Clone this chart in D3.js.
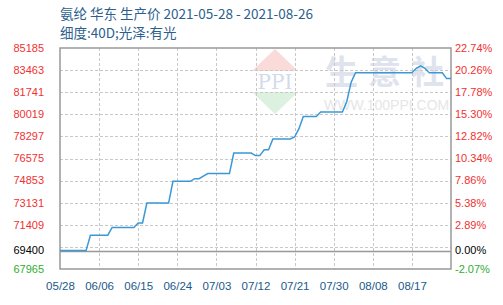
<!DOCTYPE html>
<html>
<head>
<meta charset="utf-8">
<script src="https://cdn.jsdelivr.net/npm/d3@7"></script>
<style>
  body { margin: 0; background: #fff; }
  svg { display: block; }
</style>
</head>
<body>
<svg id="chart" width="503" height="305"></svg>
<script>
//  data
const titleText = "氨纶 华东 生产价 2021-05-28 - 2021-08-26";
const subtitleText = "细度:40D;光泽:有光";
const startDate = "2021-05-28";
const endDate = "2021-08-26";
const baseValue = 69400;

// one price per day from 05/28 to 08/26
const prices = [
  69400, 69400, 69400, 69400, 69400, 69400, 69400,            // 05/28 - 06/03
  70600, 70600, 70600, 70600, 70600,                          // 06/04 - 06/08
  71200, 71200, 71200, 71200, 71200, 71200,                   // 06/09 - 06/14
  71550, 71550,                                               // 06/15 - 06/16
  73100, 73100, 73100, 73100, 73100, 73100,                   // 06/17 - 06/22
  74800, 74800, 74800, 74800, 74800,                          // 06/23 - 06/27
  75000, 75000, 75200,                                        // 06/28 - 06/30
  75400, 75400, 75400, 75400, 75400, 75400,                   // 07/01 - 07/06
  77000, 77000, 77000, 77000, 77000,                          // 07/07 - 07/11
  76800, 76800, 77250, 77250,                                 // 07/12 - 07/15
  78100, 78100, 78100, 78100, 78100,                          // 07/16 - 07/20
  78250, 78900,                                               // 07/21 - 07/22
  79850, 79850, 79850, 79850,                                 // 07/23 - 07/26
  80200, 80200, 80200, 80200, 80200, 80200,                   // 07/27 - 08/01
  81000, 82500,                                               // 08/02 - 08/03
  83250, 83250, 83250, 83250, 83250, 83250, 83250,            // 08/04 - 08/10
  83250, 83250, 83250, 83250, 83250, 83250, 83250,            // 08/11 - 08/17
  83600, 83800, 83600,                                        // 08/18 - 08/20
  83250, 83250, 83250, 83250,                                 // 08/21 - 08/24
  82800, 82800                                                // 08/25 - 08/26
];

const xTickLabels = ["05/28", "06/06", "06/15", "06/24", "07/03", "07/12", "07/21", "07/30", "08/08", "08/17"];
const gridValues = [85185, 83463, 81741, 80019, 78297, 76575, 74853, 73131, 71409, 69687, 67965];
const leftTicks = [85185, 83463, 81741, 80019, 78297, 76575, 74853, 73131, 71409, 69400, 67965];
const watermarkChars = ["生", "意", "社"];

function draw_chart() {
  const margin = ({top: 48, right: 52, bottom: 36, left: 60});
  const w = 503, h = 305;
  const svg = d3.select("#chart");

  const parseDay = d3.timeParse("%Y-%m-%d");
  const t0 = parseDay(startDate);
  const t1 = parseDay(endDate);
  const data = prices.map((p, i) => ({date: d3.timeDay.offset(t0, i), value: p}));

  const x = d3.scaleTime().domain([t0, t1]).range([margin.left, w - margin.right]);
  const y = d3.scaleLinear().domain([d3.min(gridValues), d3.max(gridValues)]).range([h - margin.bottom, margin.top]);

  //  title
  svg.append("text")
    .attr("x", 60).attr("y", 19)
    .text(titleText)
    .style("font-family", "'Noto Sans CJK SC', sans-serif")
    .style("font-size", "13.5px")
    .style("fill", "#2c5f8e");
  svg.append("text")
    .attr("x", 60).attr("y", 38)
    .text(subtitleText)
    .style("font-family", "'Noto Sans CJK SC', sans-serif")
    .style("font-size", "13.5px")
    .style("fill", "#2c5f8e");

  //  watermark
  const wm = svg.append("g").attr("class", "watermark");
  wm.append("path")
    .attr("d", "M275,49 L298,71 L252,71 Z")
    .attr("fill", "#fbdada");
  wm.append("path")
    .attr("d", "M252,92 L298,92 L275,114 Z")
    .attr("fill", "#dcf1e0");
  wm.append("text")
    .attr("x", 275).attr("y", 89)
    .attr("text-anchor", "middle")
    .text("PPI")
    .style("font-family", "'DejaVu Serif', serif")
    .style("font-size", "20px")
    .style("fill", "#d3dbeb");
  wm.selectAll("text.wmchar")
    .data(watermarkChars)
    .join("text")
    .attr("class", "wmchar")
    .attr("x", (d, i) => 325 + i * 43).attr("y", 84)
    .text(d => d)
    .style("font-family", "'Noto Sans CJK SC', sans-serif")
    .style("font-size", "33px")
    .style("font-weight", "bold")
    .style("fill", "#dfe3ee");
  wm.append("text")
    .attr("x", 324).attr("y", 110)
    .text("WWW.100PPI.COM")
    .style("font-family", "'Liberation Sans', sans-serif")
    .style("font-size", "14px")
    .style("fill", "#e6e6e6");

  //  grid
  svg.append("g")
    .selectAll("line")
    .data(gridValues.slice(1, -1))
    .join("line")
    .attr("x1", margin.left).attr("x2", w - margin.right)
    .attr("y1", d => Math.round(y(d)) + 0.5).attr("y2", d => Math.round(y(d)) + 0.5)
    .style("stroke", "#c8c8c8")
    .style("stroke-dasharray", "3,2");

  const tickDates = xTickLabels.map(s => parseDay("2021-" + s.replace("/", "-")));
  svg.append("g")
    .selectAll("line")
    .data(tickDates.slice(1))
    .join("line")
    .attr("x1", d => Math.round(x(d)) + 0.5).attr("x2", d => Math.round(x(d)) + 0.5)
    .attr("y1", margin.top).attr("y2", h - margin.bottom)
    .style("stroke", "#c8c8c8")
    .style("stroke-dasharray", "3,2");

  //  base line
  svg.append("line")
    .attr("x1", margin.left).attr("x2", w - margin.right)
    .attr("y1", Math.round(y(baseValue)) + 0.5).attr("y2", Math.round(y(baseValue)) + 0.5)
    .style("stroke", "#999")
    .style("stroke-width", 1.5);

  //  frame
  svg.append("rect")
    .attr("x", margin.left).attr("y", margin.top)
    .attr("width", w - margin.right - margin.left)
    .attr("height", h - margin.bottom - margin.top)
    .attr("fill", "none")
    .style("stroke", "#999")
    .style("stroke-width", 1.5);

  //  price line
  svg.append("path")
    .datum(data)
    .attr("fill", "none")
    .attr("stroke", "#3b98d6")
    .attr("stroke-width", 1.5)
    .attr("d", d3.line().x(d => x(d.date)).y(d => y(d.value)));

  //  axes
  const tickColor = v => v === baseValue ? "#000" : (v < baseValue ? "#2fae2f" : "#f03232");

  const yAxisL = svg.append("g")
    .attr("transform", `translate(${margin.left},0)`)
    .call(d3.axisLeft(y).tickValues(leftTicks).tickSize(0).tickPadding(16).tickFormat(d => d));
  yAxisL.select(".domain").remove();
  yAxisL.selectAll("text")
    .attr("dy", "0.3em")
    .style("font-family", "'Liberation Sans', Arial, sans-serif")
    .style("font-size", "11px")
    .style("fill", d => tickColor(d));

  const pct = v => ((v - baseValue) / baseValue * 100).toFixed(2) + "%";
  const yAxisR = svg.append("g")
    .attr("transform", `translate(${w - margin.right},0)`)
    .call(d3.axisRight(y).tickValues(leftTicks).tickSize(0).tickPadding(4).tickFormat(pct));
  yAxisR.select(".domain").remove();
  yAxisR.selectAll("text")
    .attr("dy", "0.3em")
    .style("font-family", "'Liberation Sans', Arial, sans-serif")
    .style("font-size", "11px")
    .style("fill", d => tickColor(d));

  const xAxis = svg.append("g")
    .attr("transform", `translate(0,${h - margin.bottom})`)
    .call(d3.axisBottom(x).tickValues(tickDates).tickSize(0).tickPadding(13).tickFormat((d, i) => xTickLabels[i]));
  xAxis.select(".domain").remove();
  xAxis.selectAll("text")
    .style("font-family", "'Liberation Sans', Arial, sans-serif")
    .style("font-size", "11.5px")
    .style("fill", "#1a5a8c");
}

draw_chart();
</script>
</body>
</html>
